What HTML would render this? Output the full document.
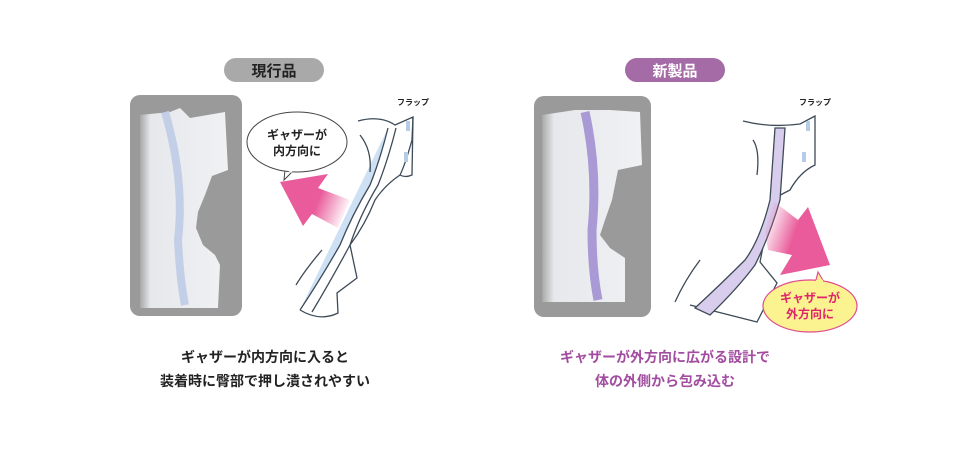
<!DOCTYPE html>
<html><head><meta charset="utf-8"><style>
body{margin:0;background:#fff;width:960px;height:450px;overflow:hidden;font-family:"Liberation Sans","Noto Sans CJK JP",sans-serif}
svg{position:absolute;left:0;top:0}
</style></head><body>
<svg width="960" height="450" viewBox="0 0 960 450" font-family="Liberation Sans, Noto Sans CJK JP, sans-serif">
<defs>
<linearGradient id="gl" x1="1" y1="0.6" x2="0" y2="0.3"><stop offset="0" stop-color="#e95b9a" stop-opacity="0"/><stop offset="0.45" stop-color="#e95b9a"/><stop offset="1" stop-color="#e95b9a"/></linearGradient>
<linearGradient id="gr" x1="0" y1="0.3" x2="1" y2="0.7"><stop offset="0" stop-color="#e95b9a" stop-opacity="0"/><stop offset="0.45" stop-color="#e95b9a"/><stop offset="1" stop-color="#e95b9a"/></linearGradient>
<linearGradient id="ph" x1="0" x2="1"><stop offset="0" stop-color="#a8a8a8"/><stop offset="0.12" stop-color="#e6e8ec"/><stop offset="1" stop-color="#f0f1f3"/></linearGradient>
</defs>
<rect x="224" y="58" width="100" height="24" rx="12" fill="#a9a9a9"/>
<text x="274" y="76" font-size="15" font-weight="bold" text-anchor="middle" fill="#222">現行品</text>
<rect x="625" y="58" width="100" height="24" rx="12" fill="#a56ba7"/>
<text x="675" y="76" font-size="15" font-weight="bold" text-anchor="middle" fill="#fff">新製品</text>
<rect x="130" y="95" width="112" height="221" rx="10" fill="#9a9a9a"/>
<path d="M140 115 L170 112 L180 108 L190 118 L225 112 L228 170 L212 176 L205 195 L198 212 L196 228 L203 245 L215 255 L220 265 L218 308 L140 308 Z" fill="url(#ph)"/>
<path d="M165 112 Q185 180 178 240 Q180 280 185 305" stroke="#c2cfe6" stroke-width="8" fill="none"/>
<rect x="534" y="96" width="117" height="221" rx="10" fill="#9a9a9a"/>
<path d="M542 115 L575 110 L610 110 L640 112 L642 165 L618 170 L612 200 L605 220 L600 235 L610 248 L625 258 L625 302 L542 302 Z" fill="url(#ph)"/>
<path d="M585 112 Q598 170 592 230 Q592 270 598 300" stroke="#a99ad6" stroke-width="9" fill="none"/>
<g stroke="#3d4a57" stroke-width="1.3" fill="none">
<path d="M358 121 Q380 115 395 125 L413 117 L412 140 Q405 165 400 175 Q385 185 375 200 Q365 225 350 245 L357 278 L337 293 L338 313 Q320 322 300 310"/>
<path d="M388 128 Q380 160 370 185 Q352 215 340 245 Q320 280 300 310" fill="#cde0f4"/>
<path d="M396 128 Q388 160 378 185 Q360 215 350 245 Q330 282 312 312"/>
<path d="M413 117 L412 175 Q405 178 400 175"/>
<path d="M360 135 Q372 150 370 172"/>
<path d="M322 250 Q305 270 296 285"/>
</g>
<rect x="406" y="121" width="4" height="10" fill="#b5cbe6"/>
<rect x="404" y="152" width="4" height="10" fill="#b5cbe6"/>
<text x="413" y="105" font-size="8" font-weight="bold" text-anchor="middle" fill="#222">フラップ</text>
<path d="M285 170 L284 180 L292 172" fill="#fff" stroke="#444" stroke-width="1"/>
<ellipse cx="297" cy="142" rx="50" ry="30" fill="#fff" stroke="#444" stroke-width="1"/>
<path d="M285 168 L292 172" stroke="#fff" stroke-width="2"/>
<text x="297" y="139" font-size="12" font-weight="bold" text-anchor="middle" fill="#222">ギャザーが</text>
<text x="297" y="155" font-size="12" font-weight="bold" text-anchor="middle" fill="#222">内方向に</text>
<polygon points="350,200 338,228 312,214 303,226 280,182 328,174 318,188" fill="url(#gl)"/>
<g stroke="#3d4a57" stroke-width="1.3" fill="none">
<path d="M743 121 Q770 128 800 124 L815 116 L815 165 Q800 172 790 190 Q780 195 772 200 L760 262 L777 283 L757 322 Q730 315 690 305"/>
<path d="M775 128 L770 200 Q760 240 745 260 Q720 285 695 308 L710 315 Q738 288 755 265 Q770 235 780 200 L785 128 Z" fill="#d8cdec"/>
<path d="M700 260 Q685 280 675 302"/>
<path d="M753 140 Q760 150 757 175"/>
</g>
<rect x="806" y="121" width="4" height="10" fill="#b5cbe6"/>
<rect x="802" y="152" width="4" height="10" fill="#b5cbe6"/>
<text x="815" y="105" font-size="8" font-weight="bold" text-anchor="middle" fill="#222">フラップ</text>
<polygon points="765,230 772,200 798,220 808,207 830,265 780,275 792,255 768,250" fill="url(#gr)"/>
<path d="M815 284 L818 272 L824 282" fill="#fbf38f" stroke="#e04b8f" stroke-width="1.2"/>
<ellipse cx="810" cy="306" rx="47" ry="26" fill="#fbf38f" stroke="#e04b8f" stroke-width="1.2"/>
<path d="M816 281 L823 281" stroke="#fbf38f" stroke-width="2.5"/>
<text x="810" y="302" font-size="12" font-weight="bold" text-anchor="middle" fill="#e0246b">ギャザーが</text>
<text x="810" y="318" font-size="12" font-weight="bold" text-anchor="middle" fill="#e0246b">外方向に</text>
<text x="265" y="362" font-size="14" font-weight="bold" text-anchor="middle" fill="#222">ギャザーが内方向に入ると</text>
<text x="265" y="386" font-size="14" font-weight="bold" text-anchor="middle" fill="#222">装着時に臀部で押し潰されやすい</text>
<text x="665" y="362" font-size="14" font-weight="bold" text-anchor="middle" fill="#a24d9f">ギャザーが外方向に広がる設計で</text>
<text x="665" y="386" font-size="14" font-weight="bold" text-anchor="middle" fill="#a24d9f">体の外側から包み込む</text>
</svg>
</body></html>
